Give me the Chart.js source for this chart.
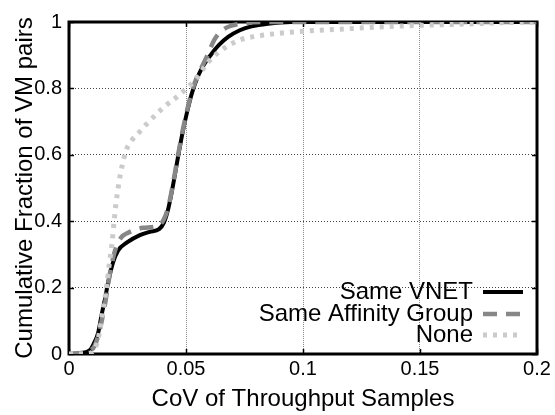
<!DOCTYPE html>
<html>
<head>
<meta charset="utf-8">
<title>CoV of Throughput Samples</title>
<script src="https://cdn.jsdelivr.net/npm/chart.js@4.4.1/dist/chart.umd.min.js"></script>
<style>
  html, body { margin: 0; padding: 0; background: #fff; }
  #chart { display: block; }
</style>
</head>
<body>
<canvas id="chart" width="555" height="415"></canvas>
<script>
// CDF points (x = CoV, y = cumulative fraction)
const seriesNames = ['Same VNET', 'Same Affinity Group', 'None'];

const vnetX = [0, 0.005, 0.009, 0.0105, 0.0125, 0.014, 0.0155, 0.0167, 0.0188, 0.021, 0.0248, 0.0303, 0.0345, 0.0385,
  0.0405, 0.0425, 0.0445, 0.0465, 0.0485, 0.0505, 0.0525, 0.055, 0.0575, 0.0605, 0.064, 0.068, 0.073, 0.078, 0.085, 0.095, 0.2];
const vnetY = [0, 0.003, 0.012, 0.03, 0.065, 0.12, 0.17, 0.215, 0.275, 0.312, 0.336, 0.358, 0.368, 0.376,
  0.395, 0.44, 0.51, 0.59, 0.665, 0.73, 0.785, 0.835, 0.87, 0.9, 0.93, 0.955, 0.975, 0.987, 0.995, 1, 1];

const affinityX = [0, 0.005, 0.009, 0.011, 0.0125, 0.014, 0.0155, 0.0165, 0.0178, 0.0196, 0.0222, 0.0255, 0.0316, 0.038,
  0.0405, 0.0425, 0.0445, 0.0465, 0.0485, 0.0505, 0.0525, 0.055, 0.0575, 0.0595, 0.062, 0.065, 0.069, 0.075, 0.085, 0.2];
const affinityY = [0, 0.003, 0.01, 0.025, 0.055, 0.1, 0.155, 0.2, 0.255, 0.31, 0.35, 0.366, 0.38, 0.386,
  0.405, 0.445, 0.515, 0.595, 0.67, 0.735, 0.79, 0.84, 0.875, 0.905, 0.945, 0.972, 0.988, 0.996, 1, 1];

const noneX = [0, 0.005, 0.0085, 0.0098, 0.012, 0.0132, 0.0145, 0.0162, 0.0172, 0.0184, 0.0193, 0.0201, 0.021, 0.0218,
  0.0228, 0.0245, 0.027, 0.0298, 0.0335, 0.04, 0.0474, 0.0547, 0.059, 0.0645, 0.073, 0.081, 0.09, 0.1, 0.115, 0.13,
  0.15, 0.17, 0.185, 0.2];
const noneY = [0, 0, 0.002, 0.005, 0.033, 0.072, 0.13, 0.21, 0.27, 0.334, 0.4, 0.455, 0.5, 0.535,
  0.57, 0.615, 0.645, 0.666, 0.695, 0.74, 0.782, 0.832, 0.875, 0.912, 0.946, 0.958, 0.966, 0.972, 0.978, 0.984,
  0.99, 0.994, 0.998, 1];

const xTicks = [0, 0.05, 0.1, 0.15, 0.2];
const yTicks = [0, 0.2, 0.4, 0.6, 0.8, 1];
const xTitle = 'CoV of Throughput Samples';
const yTitle = 'Cumulative Fraction of VM pairs';

const FONT = '"Liberation Sans", Arial, Helvetica, sans-serif';

// zip x/y arrays into {x, y} points
function toPoints(xs, ys) {
    return xs.map((x, i) => ({ x: x, y: ys[i] }));
}

// line styles, same order as seriesNames
const styles = [
    { color: '#000000', width: 4, dash: [] },
    { color: '#878787', width: 4.5, dash: [14, 9] },
    { color: '#cbcbcb', width: 5, dash: [4, 6] }
];

// frame, inward ticks, axis titles and the gnuplot-style key
const decorPlugin = {
    id: 'decor',
    beforeDatasetsDraw(chart) {
        const ctx = chart.ctx;
        const a = chart.chartArea;
        const xs = chart.scales.x, ys = chart.scales.y;
        ctx.save();
        ctx.strokeStyle = '#000';
        ctx.lineWidth = 1.5;
        xTicks.forEach(v => {
            let px = Math.round(xs.getPixelForValue(v)) + 0.5;
            ctx.beginPath();
            ctx.moveTo(px, a.bottom); ctx.lineTo(px, a.bottom - 5);
            ctx.moveTo(px, a.top); ctx.lineTo(px, a.top + 5);
            ctx.stroke();
        });
        yTicks.forEach(v => {
            let py = Math.round(ys.getPixelForValue(v)) + 0.5;
            ctx.beginPath();
            ctx.moveTo(a.left, py); ctx.lineTo(a.left + 5, py);
            ctx.moveTo(a.right, py); ctx.lineTo(a.right - 5, py);
            ctx.stroke();
        });
        ctx.lineWidth = 3;
        ctx.strokeRect(a.left, a.top, a.right - a.left, a.bottom - a.top);
        ctx.restore();
    },
    afterDatasetsDraw(chart) {
        const ctx = chart.ctx;
        const a = chart.chartArea;
        ctx.save();
        ctx.fillStyle = '#000';
        ctx.font = '24px ' + FONT;
        ctx.textBaseline = 'middle';

        // axis titles
        ctx.textAlign = 'center';
        ctx.fillText(xTitle, (a.left + a.right) / 2, 399);
        ctx.save();
        ctx.translate(25, (a.top + a.bottom) / 2);
        ctx.rotate(-Math.PI / 2);
        ctx.fillText(yTitle, 0, 0);
        ctx.restore();

        // key: text right aligned, sample line to the right
        const rows = [292, 314, 335];
        seriesNames.forEach((name, i) => {
            let y = rows[i];
            ctx.textAlign = 'right';
            ctx.fillStyle = '#000';
            ctx.fillText(name, 473, y);
            ctx.beginPath();
            ctx.strokeStyle = styles[i].color;
            ctx.lineWidth = styles[i].width;
            ctx.setLineDash(styles[i].dash);
            ctx.moveTo(483, y);
            ctx.lineTo(523, y);
            ctx.stroke();
            ctx.setLineDash([]);
        });
        ctx.restore();
    }
};

const seriesData = [toPoints(vnetX, vnetY), toPoints(affinityX, affinityY), toPoints(noneX, noneY)];

const datasets = seriesNames.map((name, i) => ({
    label: name,
    data: seriesData[i],
    borderColor: styles[i].color,
    borderWidth: styles[i].width,
    borderDash: styles[i].dash,
    pointRadius: 0,
    fill: false,
    cubicInterpolationMode: 'monotone',
    order: 3 - i  // "None" ends up on top like in gnuplot
}));

// hide grid lines that sit on the frame
function gridColor(color, edges) {
    return c => (c.tick && edges.includes(c.tick.value)) ? 'rgba(0,0,0,0)' : color;
}

new Chart(document.getElementById('chart'), {
    type: 'line',
    data: { datasets: datasets },
    options: {
        responsive: false,
        devicePixelRatio: 1,
        animation: false,
        events: [],
        layout: { padding: { top: 22, right: 18, left: 0, bottom: 0 } },
        plugins: {
            legend: { display: false },
            tooltip: { enabled: false }
        },
        scales: {
            x: {
                type: 'linear',
                min: 0,
                max: 0.2,
                afterBuildTicks: s => { s.ticks = xTicks.map(v => ({ value: v })); },
                afterFit: s => { s.height = 61; },
                ticks: {
                    color: '#000',
                    font: { family: FONT, size: 20 },
                    padding: 3,
                    maxRotation: 0,
                    autoSkip: false,
                    callback: v => String(v)
                },
                grid: { color: gridColor('#8a8a8a', [0, 0.2]), lineWidth: 1, drawTicks: false },
                border: { display: false, dash: [1, 1] }
            },
            y: {
                type: 'linear',
                min: 0,
                max: 1,
                afterBuildTicks: s => { s.ticks = yTicks.map(v => ({ value: v })); },
                afterFit: s => { s.width = 69; },
                ticks: {
                    color: '#000',
                    font: { family: FONT, size: 20 },
                    padding: 7,
                    autoSkip: false,
                    callback: v => String(v)
                },
                grid: { color: gridColor('#444444', [0, 1]), lineWidth: 1, drawTicks: false },
                border: { display: false, dash: [1, 2] }
            }
        }
    },
    plugins: [decorPlugin]
});
</script>
</body>
</html>
